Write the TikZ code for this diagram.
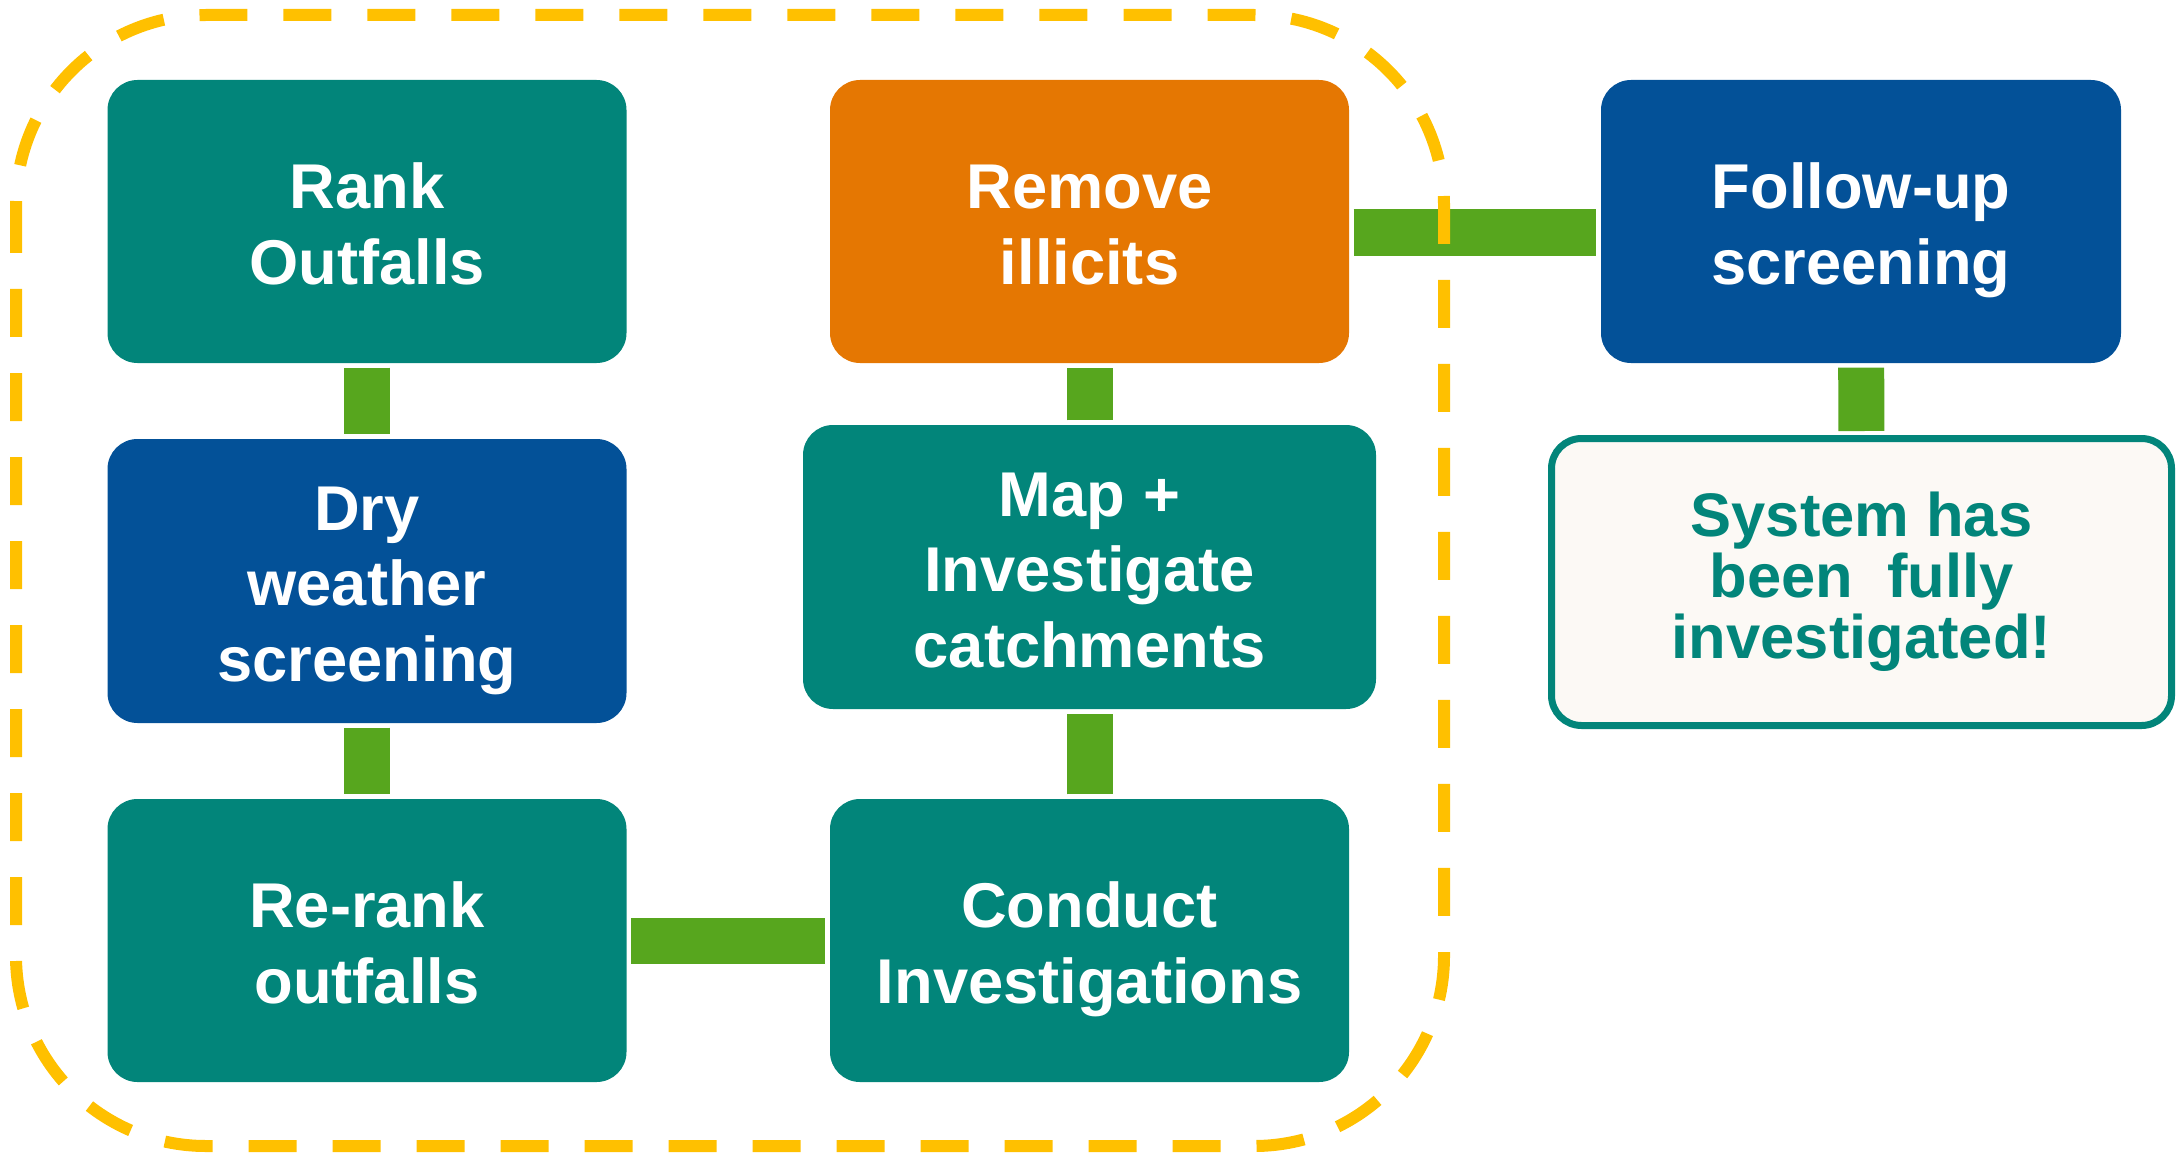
\documentclass[tikz,border=0pt]{standalone}
\usepackage{fontspec}
\setmainfont{Liberation Sans}
\usetikzlibrary{positioning}
\definecolor{tealc}{RGB}{2,133,122}
\definecolor{bluec}{RGB}{3,81,152}
\definecolor{orangec}{RGB}{229,119,2}
\definecolor{greenc}{RGB}{87,166,30}
\definecolor{yellowc}{RGB}{255,192,0}
\definecolor{creamc}{RGB}{252,249,245}
\newcommand\topstrut{\rule{0pt}{18.2pt}}
\newcommand\botstrut{\rule[-4pt]{0pt}{4pt}}
\tikzset{stepbox/.style={rounded corners=0.3cm, minimum width=5.19cm, minimum height=2.83cm,
        align=center, text=white, inner sep=0, execute at end node=\botstrut,
        font=\fontsize{18}{21.6}\selectfont\bfseries}}
\tikzset{tealbox/.style={stepbox, fill=tealc}}
\tikzset{bluebox/.style={stepbox, fill=bluec}}
\tikzset{orangebox/.style={stepbox, fill=orangec}}
\tikzset{donebox/.style={stepbox, fill=creamc, draw=tealc, line width=0.07cm, text=tealc,
        minimum width=6.2cm, minimum height=2.87cm,
        font=\fontsize{17.5}{15.1}\selectfont\bfseries}}
\tikzset{link/.style={draw=greenc, line width=0.46cm, shorten >=0.04cm, shorten <=0.04cm}}
\tikzset{frame/.style={draw=yellowc, line width=0.12cm, dash pattern=on 0.48cm off 0.36cm,
        rounded corners=1.9cm}}

\begin{document}
\begin{tikzpicture}
\useasboundingbox (0,0) rectangle (21.77,-11.52);
% Left column
\node[tealbox] (rank) at (3.67,-2.215) {\topstrut Rank\\Outfalls};
\node[bluebox, minimum height=2.84cm] (dry) at (3.67,-5.81) {\topstrut Dry\\weather\\screening};
\node[tealbox] (rerank) at (3.67,-9.405) {\topstrut Re-rank\\outfalls};
% Middle column
\node[orangebox] (remove) at (10.895,-2.215) {\topstrut Remove\\illicits};
\node[tealbox, minimum width=5.73cm, minimum height=2.84cm] (map) at (10.895,-5.67) {\topstrut Map +\\Investigate\\catchments};
\node[tealbox] (conduct) at (10.895,-9.405) {\topstrut Conduct\\Investigations};
% Right column
\node[bluebox, minimum width=5.2cm] (follow) at (18.61,-2.215) {\topstrut Follow-up\\screening};
\node[donebox] (done) at (18.615,-5.82) {System has\\been~~fully\\investigated!};
%% Links
\draw[link] (rank) -- (dry);
\draw[link] (dry) -- (rerank);
\draw[link] (rerank) -- (conduct);
\draw[link] (conduct) -- (map);
\draw[link] (map) -- (remove);
\draw[link] ([yshift=-0.11cm]remove.east) -- ([yshift=-0.11cm]follow.west);
\draw[link] (follow) -- (done);
% Loop frame
\draw[frame] (0.16,-0.15) rectangle (14.44,-11.46);
\end{tikzpicture}
\end{document}
